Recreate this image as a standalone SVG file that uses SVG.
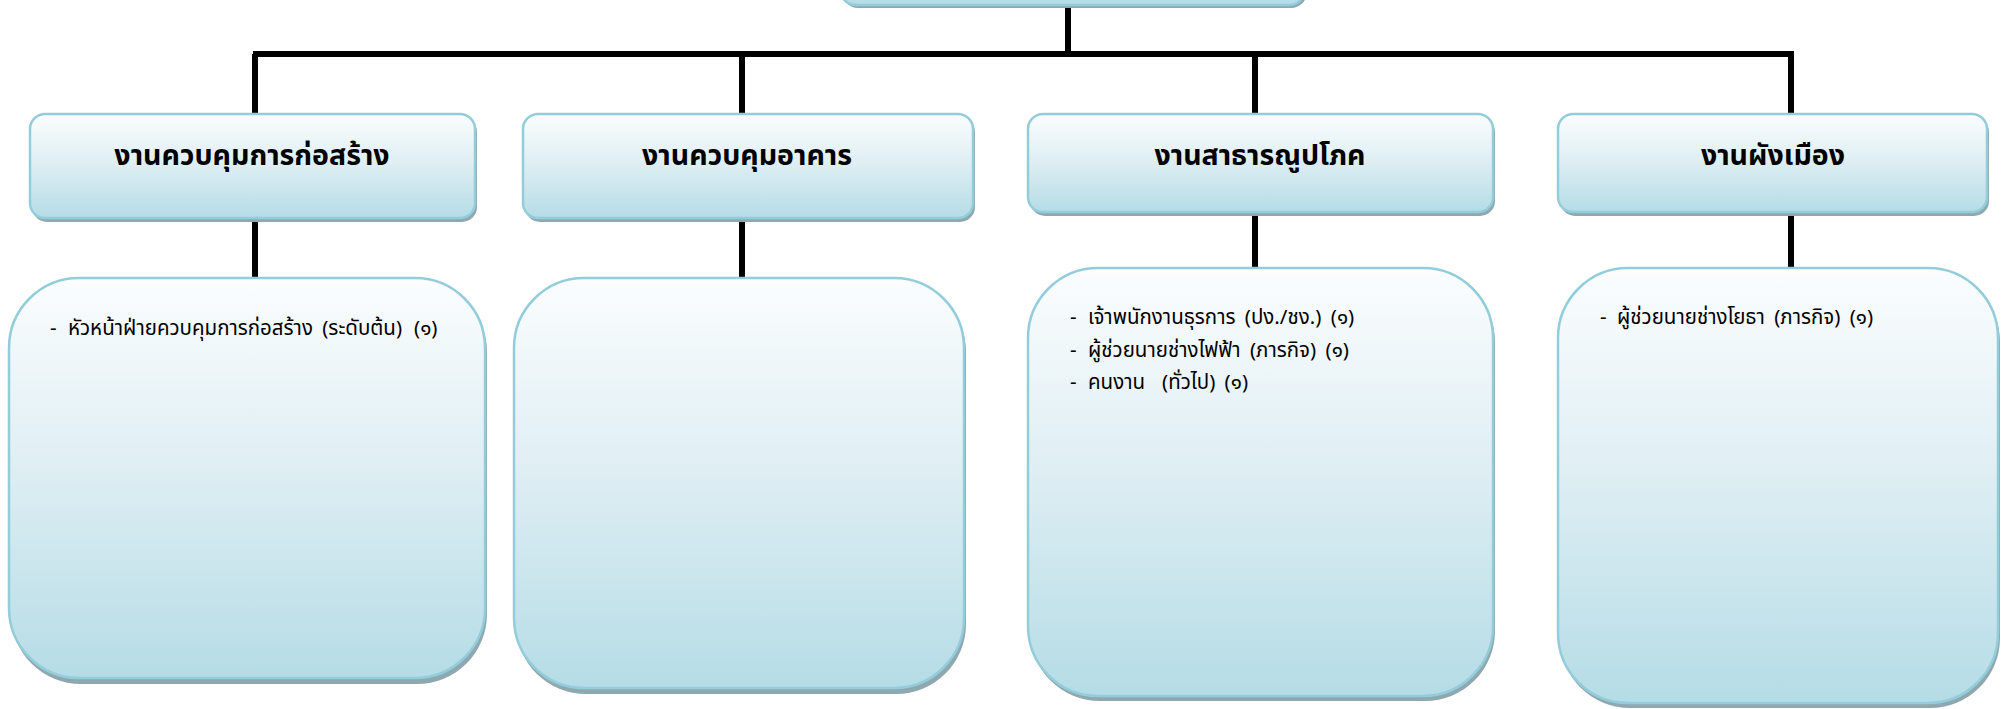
<svg xmlns="http://www.w3.org/2000/svg" width="2005" height="709" viewBox="0 0 2005 709">
<defs>
<linearGradient id="g" x1="0" y1="0" x2="0" y2="1">
<stop offset="0" stop-color="#fbfdfe"/>
<stop offset="0.45" stop-color="#e0eff4"/>
<stop offset="1" stop-color="#b5dce6"/>
</linearGradient>
<style>
.box{fill:url(#g);stroke:#93cddb;stroke-width:2.5}
.sh{fill:#8fa8b0}
.ln{stroke:#000;stroke-width:6;fill:none}
.h{font-family:"Noto Sans Thai","Tahoma","Leelawadee UI","Noto Sans",sans-serif;font-size:28.5px;font-weight:bold;fill:#000;text-anchor:middle}
.t{font-family:"Noto Sans Thai","Tahoma","Leelawadee UI","Noto Sans",sans-serif;font-size:20.5px;fill:#000;word-spacing:4px}
</style>
</defs>
<rect width="2005" height="709" fill="#fff"/>
<g id="connectors">
<line class="ln" x1="1068" y1="0" x2="1068" y2="54"/>
<line class="ln" x1="253" y1="54" x2="1794" y2="54"/>
<line class="ln" x1="255" y1="54" x2="255" y2="116"/>
<line class="ln" x1="742" y1="54" x2="742" y2="116"/>
<line class="ln" x1="1255" y1="54" x2="1255" y2="116"/>
<line class="ln" x1="1791" y1="54" x2="1791" y2="116"/>
<line class="ln" x1="255" y1="216" x2="255" y2="280"/>
<line class="ln" x1="742" y1="216" x2="742" y2="280"/>
<line class="ln" x1="1255" y1="210" x2="1255" y2="270"/>
<line class="ln" x1="1791" y1="210" x2="1791" y2="270"/>
</g>
<g id="top">
<rect class="sh" x="842" y="-100" width="465" height="108" rx="16"/>
<rect class="box" x="840" y="-100" width="465" height="105" rx="16"/>
</g>
<g id="h1">
<rect class="sh" x="32" y="117" width="445" height="105" rx="15"/>
<rect class="box" x="30" y="114" width="445" height="104" rx="15"/>
<text class="h" x="252" y="165">งานควบคุมการก่อสร้าง</text>
</g>
<g id="h2">
<rect class="sh" x="525" y="117" width="450" height="105" rx="15"/>
<rect class="box" x="523" y="114" width="450" height="104" rx="15"/>
<text class="h" x="747" y="165">งานควบคุมอาคาร</text>
</g>
<g id="h3">
<rect class="sh" x="1030" y="117" width="465" height="99" rx="15"/>
<rect class="box" x="1028" y="114" width="465" height="98" rx="15"/>
<text class="h" x="1260" y="165">งานสาธารณูปโภค</text>
</g>
<g id="h4">
<rect class="sh" x="1560" y="117" width="429" height="99" rx="15"/>
<rect class="box" x="1558" y="114" width="429" height="98" rx="15"/>
<text class="h" x="1773" y="165">งานผังเมือง</text>
</g>
<g id="b1">
<rect class="sh" x="11" y="282" width="476" height="402" rx="70"/>
<rect class="box" x="9" y="278" width="476" height="400" rx="70"/>
<text class="t" y="335"><tspan x="50">-</tspan><tspan x="68">หัวหน้าฝ่ายควบคุมการก่อสร้าง (ระดับต้น)</tspan><tspan x="414">(๑)</tspan></text>
</g>
<g id="b2">
<rect class="sh" x="516" y="282" width="450" height="412" rx="70"/>
<rect class="box" x="514" y="278" width="450" height="410" rx="70"/>
</g>
<g id="b3">
<rect class="sh" x="1030" y="272" width="465" height="429" rx="70"/>
<rect class="box" x="1028" y="268" width="465" height="428" rx="70"/>
<text class="t" y="324"><tspan x="1070">-</tspan><tspan x="1088">เจ้าพนักงานธุรการ (ปง./ชง.) (๑)</tspan></text>
<text class="t" y="357"><tspan x="1070">-</tspan><tspan x="1088">ผู้ช่วยนายช่างไฟฟ้า (ภารกิจ) (๑)</tspan></text>
<text class="t" y="389"><tspan x="1070">-</tspan><tspan x="1088">คนงาน</tspan><tspan x="1162">(ทั่วไป) (๑)</tspan></text>
</g>
<g id="b4">
<rect class="sh" x="1560" y="272" width="440" height="436" rx="70"/>
<rect class="box" x="1558" y="268" width="440" height="435" rx="70"/>
<text class="t" y="324"><tspan x="1600">-</tspan><tspan x="1617">ผู้ช่วยนายช่างโยธา (ภารกิจ) (๑)</tspan></text>
</g>
</svg>
